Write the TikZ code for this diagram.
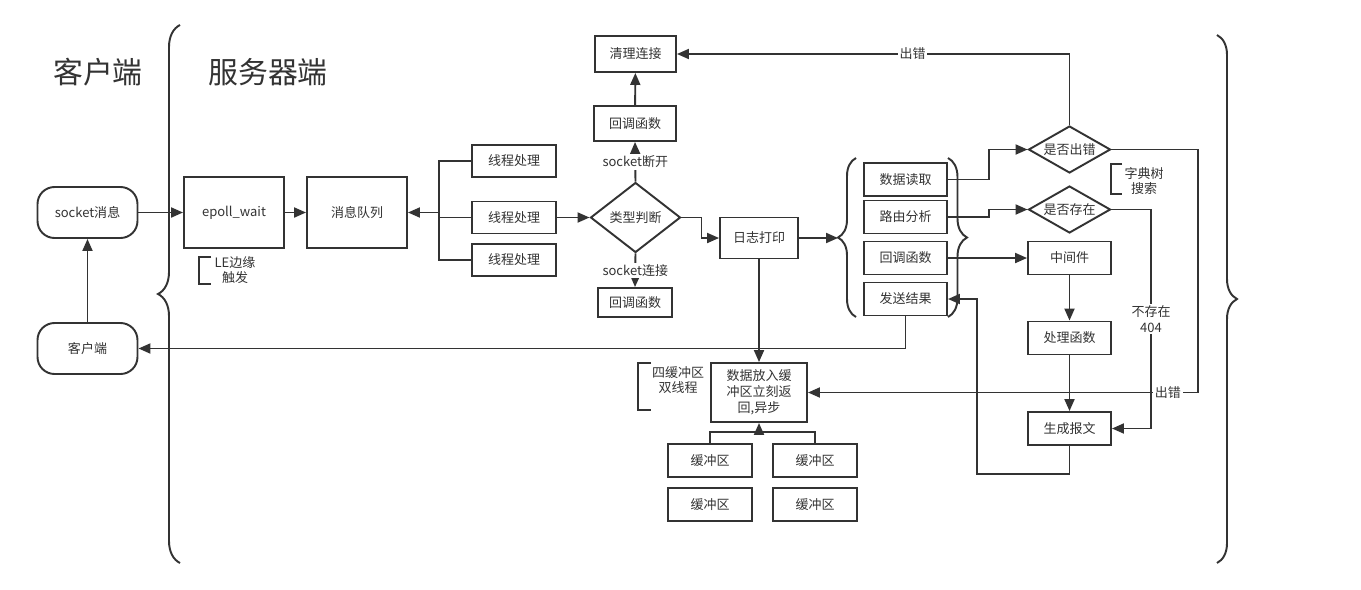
\documentclass[tikz,border=0pt]{standalone}
\usepackage{fontspec}
\setmainfont{Noto Sans CJK SC}
\usetikzlibrary{shapes.geometric, arrows.meta, decorations.pathreplacing}
\definecolor{lineGray}{HTML}{333333}
\tikzset{
	box/.style={draw=lineGray, line width=1.1pt, fill=white, inner sep=0pt, text=lineGray, align=center},
	roundBox/.style={box, rounded corners=0.34cm, minimum width=2cm, minimum height=1.02cm},
	bigBox/.style={box, minimum width=2cm, minimum height=1.42cm},
	smallBox/.style={box, minimum width=1.66cm, minimum height=0.66cm},
	decision/.style={box, diamond, shape aspect=#1},
	flow/.style={draw=lineGray, line width=1.1pt, -{Triangle[length=0.24cm, width=0.2cm]}},
	link/.style={draw=lineGray, line width=1.1pt},
	note/.style={text=lineGray, align=center, inner sep=0pt},
	onLine/.style={fill=white, text=lineGray, inner sep=1pt, align=center},
	braceDeco/.style={draw=lineGray, line width=1.1pt, decorate, decoration={brace, amplitude=#1}}
}

\begin{document}
\begin{tikzpicture}[x=0.02cm, y=-0.02cm, font=\fontsize{7.4pt}{9pt}\selectfont]
\fill[white] (0,0) rectangle (1361,589);
\useasboundingbox (0,0) rectangle (1361,589);

% titles
\node[note, font=\fontsize{17pt}{20pt}\selectfont] (clientTitle) at (98,72) {客户端};
\node[note, font=\fontsize{17pt}{20pt}\selectfont] (serverTitle) at (268,72) {服务器端};

% braces
\draw[braceDeco=0.44cm] (180,563) -- (180,25);
\draw[braceDeco=0.40cm] (1217,35) -- (1217,563);
\draw[braceDeco=0.36cm] (856,317) -- (856,158);
\draw[braceDeco=0.38cm] (948,158) -- (948,317);
\coordinate (innerTip) at (838,238);

% client side
\node[roundBox] (sockMsg) at (87.5,212.5) {socket消息};
\node[roundBox] (client) at (87.5,348.5) {客户端};

% server entry
\node[bigBox] (epoll) at (234,212.5) {epoll\_wait};
\node[bigBox] (msgQueue) at (357,212.5) {消息队列};
\draw[link] (211,257) -- (199,257) -- (199,284) -- (211,284);
\node[note] (leNote) at (235,270) {LE边缘\\触发};

\node[smallBox, minimum width=1.68cm, minimum height=0.64cm] (thread1) at (514,161) {线程处理};
\node[smallBox, minimum width=1.68cm, minimum height=0.64cm] (thread2) at (514,217.5) {线程处理};
\node[smallBox, minimum width=1.68cm, minimum height=0.64cm] (thread3) at (514,260) {线程处理};
\coordinate (trunk) at (439,212.5);

\node[decision=1.3, minimum width=1.8cm, minimum height=1.4cm] (judge) at (635.5,217.5) {类型判断};
\node[smallBox, minimum width=1.64cm, minimum height=0.7cm] (cbTop) at (635,123.5) {回调函数};
\node[smallBox, minimum width=1.62cm, minimum height=0.72cm] (cleanup) at (635.5,54) {清理连接};
\node[smallBox, minimum width=1.48cm, minimum height=0.58cm] (cbBottom) at (635,302.5) {回调函数};
\node[smallBox, minimum width=1.56cm, minimum height=0.82cm] (logPrint) at (759,238) {日志打印};

% async buffers
\node[smallBox, minimum width=1.92cm, minimum height=1.18cm] (asyncBuf) at (759,392.5) {数据放入缓\\冲区立刻返\\回,异步};
\draw[link] (651,363) -- (638,363) -- (638,410) -- (651,410);
\node[note] (bufNote) at (678,380) {四缓冲区\\双线程};
\node[smallBox, minimum width=1.68cm] (buf1) at (710,460.5) {缓冲区};
\node[smallBox, minimum width=1.68cm] (buf2) at (815,460.5) {缓冲区};
\node[smallBox, minimum width=1.68cm] (buf3) at (710,504.5) {缓冲区};
\node[smallBox, minimum width=1.68cm] (buf4) at (815,504.5) {缓冲区};
\coordinate (bufJoin) at (759,433);

% request handling
\node[smallBox] (readData) at (905.5,179.5) {数据读取};
\node[smallBox] (route) at (905.5,217) {路由分析};
\node[smallBox] (cbMid) at (905.5,258) {回调函数};
\node[smallBox] (sendRes) at (905.5,299) {发送结果};

\node[decision=1.75, minimum width=1.64cm, minimum height=0.94cm] (isErr) at (1069.5,149.5) {是否出错};
\node[decision=1.75, minimum width=1.64cm, minimum height=0.94cm] (isExist) at (1069.5,209.5) {是否存在};
\draw[link] (1122,164) -- (1111,164) -- (1111,194) -- (1122,194);
\node[note] (trieNote) at (1144,181) {字典树\\搜索};
\node[smallBox] (middleware) at (1069.5,258) {中间件};
\node[smallBox] (handler) at (1069.5,338) {处理函数};
\node[smallBox] (genMsg) at (1069.5,428.5) {生成报文};
\coordinate (backLoop) at (977,474);
\coordinate (errTurn) at (1198,392.5);
\coordinate (missTurn) at (1151,428.5);

% connectors
\draw[flow] (client) -- (sockMsg);
\draw[flow] (sockMsg) -- (epoll);
\draw[flow] (epoll) -- (msgQueue);
\draw[link] (thread1.west) -- (thread1.west -| trunk) -- (thread3.west -| trunk) -- (thread3.west);
\draw[link] (thread2.west) -- (thread2.west -| trunk);
\draw[flow] (trunk) -- (msgQueue.east);
\draw[flow] (thread2) -- (judge);
\draw[flow] (judge.north) -- node[onLine] {socket断开} (cbTop.south);
\draw[flow] (cbTop) -- (cleanup);
\draw[flow] (judge.south) -- node[onLine] {socket连接} (cbBottom.north);
\draw[flow] (judge.east) -- ++(20,0) |- (logPrint.west);
\draw[flow] (logPrint.east) -- (innerTip);
\draw[flow] (logPrint.south) -- (asyncBuf.north);
\draw[link] (buf1.north) -- ++(0,-11) -| (buf2.north);
\draw[flow] (bufJoin) -- (asyncBuf.south);

\draw[flow] (readData.east) -- ++(41,0) |- (isErr.west);
\draw[flow] (route.east) -- ++(41,0) |- (isExist.west);
\draw[flow] (cbMid) -- (middleware);
\draw[flow] (middleware) -- (handler);
\draw[flow] (handler) -- (genMsg);
\draw[flow] (genMsg.south) |- (backLoop) |- (sendRes.east);
\draw[flow] (sendRes.south) |- (client.east);
\draw[flow] (isErr.north) |- node[onLine, pos=0.7] {出错} (cleanup.east);
\draw[flow] (isErr.east) -| (errTurn) -- node[onLine, pos=0.077] {出错} (asyncBuf.east);
\draw[flow] (isExist.east) -| node[onLine, pos=0.75] {不存在\\404} (missTurn) -- (genMsg.east);
\end{tikzpicture}
\end{document}
